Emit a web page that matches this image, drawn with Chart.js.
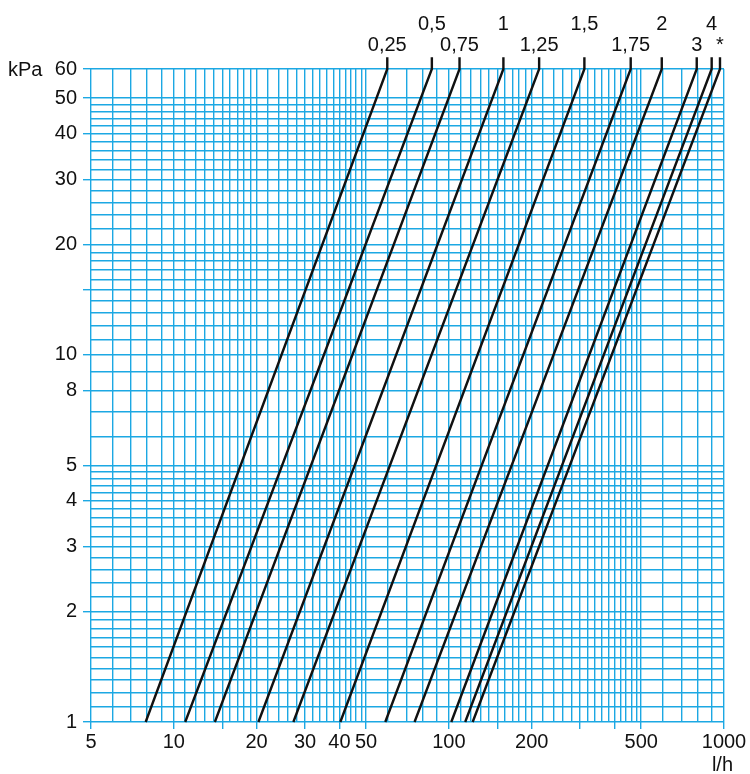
<!DOCTYPE html>
<html>
<head>
<meta charset="utf-8">
<script src="https://cdn.jsdelivr.net/npm/chart.js@4.4.1/dist/chart.umd.min.js"></script>
<style>
  html, body { margin: 0; padding: 0; background: #fff; }
  #wrap { width: 750px; height: 774px; }
</style>
</head>
<body>
<div id="wrap"><canvas id="chart" width="750" height="774"></canvas></div>
<script>
// presetting of the valve, one line each
const settings = ["0,25", "0,5", "0,75", "1", "1,25", "1,5", "1,75", "2", "3", "4", "*"];
// flow (l/h) read at 1 kPa and at 60 kPa
const flowAt1 = [7.9, 11.0, 14.1, 20.3, 27.2, 40.3, 58.7, 75, 102, 114.6, 122];
const flowAt60 = [59.7, 86.7, 109.3, 157.8, 212.8, 310.8, 458, 594, 796, 902, 967];
const stubTop = 64.6; // little vertical lead up to the label

const xGrid = [5, 6, 7, 8, 9, 10, 11, 12, 13, 14, 15, 16, 17, 18, 19, 20,
  22, 24, 26, 28, 30, 32, 34, 36, 38, 40, 42, 44, 46, 48, 50,
  60, 70, 80, 90, 100, 110, 120, 130, 140, 150, 160, 170, 180, 190, 200,
  220, 240, 260, 280, 300, 320, 340, 360, 380, 400, 420, 440, 460, 480, 500,
  600, 700, 800, 900, 1000];
const xTicks = [5, 10, 15, 20, 30, 40, 50, 100, 150, 200, 300, 400, 500, 1000];
const xLabels = [5, 10, 20, 30, 40, 50, 100, 200, 500, 1000];

const yGrid = [1, 1.1, 1.2, 1.3, 1.4, 1.5, 1.6, 1.7, 1.8, 1.9, 2,
  2.2, 2.4, 2.6, 2.8, 3, 3.2, 3.4, 3.6, 3.8, 4, 4.2, 4.4, 4.6, 4.8, 5,
  6, 7, 8, 9, 10, 11, 12, 13, 14, 15, 16, 17, 18, 19, 20,
  22, 24, 26, 28, 30, 32, 34, 36, 38, 40, 42, 44, 46, 48, 50, 60];
const yTicks = [1, 2, 3, 4, 5, 8, 10, 15, 20, 30, 40, 50, 60];
const yLabels = [1, 2, 3, 4, 5, 8, 10, 20, 30, 40, 50, 60];

const gridBlue = "#1ca8e3";
const fontFamily = "'Liberation Sans', Arial, sans-serif";
const fontSize = 20;

function near(list, v) {
  return list.some(t => Math.abs(t - v) / t < 1e-6);
}

const datasets = settings.map((name, i) => ({
  label: name,
  data: [
    { x: flowAt1[i], y: 1 },
    { x: flowAt60[i], y: 60 },
    { x: flowAt60[i], y: stubTop }
  ],
  borderColor: "#111",
  borderWidth: 2.4,
  pointRadius: 0,
  tension: 0,
  clip: false
}));

const textPlugin = {
  id: "texts",
  afterDraw(chart) {
    const { ctx } = chart;
    const x = chart.scales.x;
    const y = chart.scales.y;
    ctx.save();
    ctx.fillStyle = "#111";
    ctx.font = `${fontSize}px ${fontFamily}`;
    ctx.textAlign = "center";
    ctx.textBaseline = "alphabetic";
    settings.forEach((name, i) => {
      const px = x.getPixelForValue(flowAt60[i]);
      ctx.fillText(name, px, i % 2 === 1 ? 30 : 51);
    });
    ctx.textAlign = "left";
    ctx.fillText("kPa", 8, y.getPixelForValue(60) + 7);
    ctx.textAlign = "right";
    ctx.fillText("l/h", 733, 771);
    ctx.restore();
  }
};

new Chart(document.getElementById("chart"), {
  type: "line",
  data: { datasets },
  options: {
    responsive: false,
    animation: false,
    devicePixelRatio: 1,
    layout: { padding: { top: 69, right: 26, left: 0, bottom: 0 } },
    plugins: { legend: { display: false }, tooltip: { enabled: false } },
    scales: {
      x: {
        type: "logarithmic",
        min: 5,
        max: 1000,
        afterBuildTicks: s => { s.ticks = xGrid.map(v => ({ value: v })); },
        afterFit: s => { s.height = 52; },
        border: { display: false },
        grid: {
          color: gridBlue,
          lineWidth: 1.4,
          drawTicks: true,
          tickLength: 7,
          tickColor: c => (c.tick && near(xTicks, c.tick.value)) ? gridBlue : "rgba(0,0,0,0)"
        },
        ticks: {
          autoSkip: false,
          maxRotation: 0,
          minRotation: 0,
          padding: 1,
          color: "#111",
          font: { family: fontFamily, size: fontSize },
          callback: v => near(xLabels, v) ? String(v) : ""
        }
      },
      y: {
        type: "logarithmic",
        min: 1,
        max: 60,
        afterBuildTicks: s => { s.ticks = yGrid.map(v => ({ value: v })); },
        afterFit: s => { s.width = 91; },
        border: { display: false },
        grid: {
          color: gridBlue,
          lineWidth: 1.4,
          drawTicks: true,
          tickLength: 8,
          tickColor: c => (c.tick && near(yTicks, c.tick.value)) ? gridBlue : "rgba(0,0,0,0)"
        },
        ticks: {
          autoSkip: false,
          padding: 6,
          color: "#111",
          font: { family: fontFamily, size: fontSize },
          callback: v => near(yLabels, v) ? String(v) : ""
        }
      }
    }
  },
  plugins: [textPlugin]
});
</script>
</body>
</html>
